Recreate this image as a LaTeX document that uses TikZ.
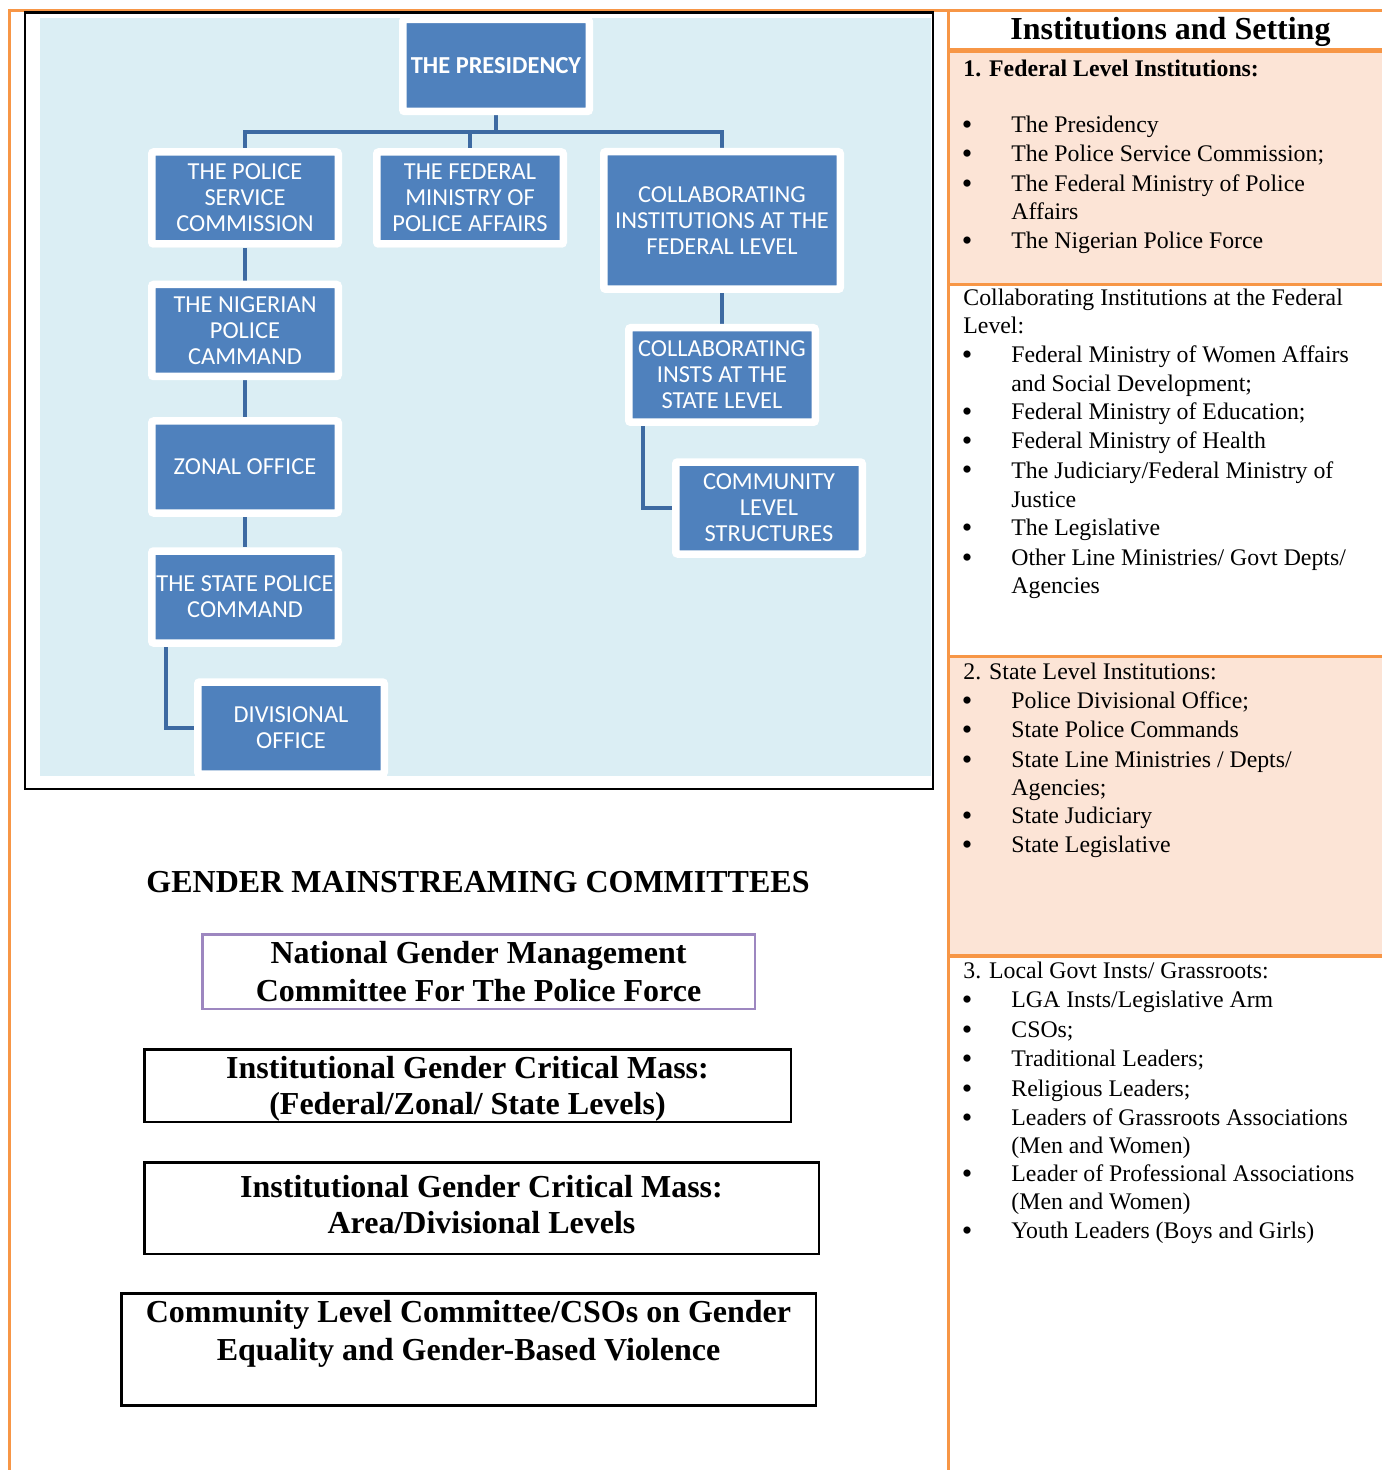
\documentclass[tikz,border=0pt]{standalone}
\usepackage{fontspec}
\setmainfont{Liberation Serif}
\newfontfamily\orgfamily{Carlito}
\usetikzlibrary{backgrounds,shadows}
\definecolor{orgblue}{HTML}{4F81BD}
\definecolor{orgbg}{HTML}{DBEEF4}
\definecolor{shadowgray}{HTML}{A9B9C1}
\definecolor{linkblue}{HTML}{3D6AA2}
\definecolor{tabline}{HTML}{F79646}
\definecolor{peach}{HTML}{FCE4D6}
\definecolor{lavender}{HTML}{9D87C0}
\newcommand\orgfont{\orgfamily\fontsize{12.2}{13}\selectfont}
\newcommand\bodyfont{\fontsize{11.9}{14.5}\selectfont}
\newcommand\cmtefont{\bfseries\fontsize{16}{18}\selectfont}
\newcommand\cmtestrut{\rule[-3.4pt]{0pt}{18pt}}
\tikzset{
    orgbox/.style={draw=white, line width=3.75pt, fill=orgblue, text=white, font=\orgfont,
        align=center, inner sep=0pt, minimum width=93.25pt, minimum height=46pt, rounded corners=1pt,
        drop shadow={shadow xshift=0pt, shadow yshift=-1.6pt, fill=shadowgray, opacity=1}}, % box of the chart
    link/.style={draw=linkblue, line width=2.3pt}, % chart connector
    cmte/.style={draw, line width=1.25pt, align=center, font=\cmtefont, inner sep=0pt}, % committee box
    bul/.style={anchor=base, inner sep=0pt, yshift=-1pt, font=\fontsize{15}{15}\selectfont},
    itm/.style={anchor=base west, inner sep=0pt, font=\bodyfont}
}

\begin{document}
\begin{tikzpicture}[x=0.5pt, y=-0.5pt]
    \useasboundingbox (0,0) rectangle (1382,1470);

    % table lines
    \fill[peach] (949.5,52.5) rectangle (1382,283);
    \fill[peach] (949.5,657.5) rectangle (1382,954);
    \draw[tabline, line width=1.5pt] (8,10.5) -- (1382,10.5);
    \draw[tabline, line width=1.25pt] (9.5,9) -- (9.5,1470);
    \draw[tabline, line width=1.5pt] (948,9) -- (948,1470);
    \foreach \y/\w in {50.5/2.2, 284.5/1.5, 656/1.5, 955.5/2} {
        \draw[tabline, line width=\w pt] (948,\y) -- (1382,\y);
    }

    % chart
    \draw[line width=1.25pt] (25,12.5) rectangle (933,789);

    \node[orgbox, font=\orgfont\bfseries] (pres) at (496,65.5) {THE PRESIDENCY};
    \node[orgbox] (psc) at (245,198) {THE POLICE\\SERVICE\\COMMISSION};
    \node[orgbox] (fmpa) at (470,198) {THE FEDERAL\\MINISTRY OF\\POLICE AFFAIRS};
    \node[orgbox, minimum width=118.25pt, minimum height=68.75pt] (cfed) at (722,220.5)
        {COLLABORATING\\INSTITUTIONS AT THE\\FEDERAL LEVEL};
    \node[orgbox] (npc) at (245,330.5) {THE NIGERIAN\\POLICE\\CAMMAND};
    \node[orgbox] (zonal) at (245,467) {ZONAL OFFICE};
    \node[orgbox] (spc) at (245,597) {THE STATE POLICE\\COMMAND};
    \node[orgbox] (div) at (291,728) {DIVISIONAL\\OFFICE};
    \node[orgbox, minimum height=47.25pt] (cstate) at (722,375) {COLLABORATING\\INSTS AT THE\\STATE LEVEL};
    \node[orgbox] (comm) at (769,508) {COMMUNITY\\LEVEL\\STRUCTURES};

    \coordinate (bus) at (496,132);
    \begin{scope}[on background layer]
        \fill[orgbg] (40,18) rectangle (931,776);
        \draw[link] (pres.south) -- (bus);
        \draw[link] (bus) -| (psc.north);
        \draw[link] (bus) -| (fmpa.north);
        \draw[link] (bus) -| (cfed.north);
        \draw[link] (psc) -- (npc);
        \draw[link] (npc) -- (zonal);
        \draw[link] (zonal) -- (spc);
        \draw[link] ([xshift=9pt]spc.south west) |- (div.west);
        \draw[link] (cfed) -- (cstate);
        \draw[link] ([xshift=9pt]cstate.south west) |- (comm.west);
    \end{scope}

    % committees
    \node[font=\cmtefont, anchor=base, inner sep=0pt] (gmc) at (478,892) {GENDER MAINSTREAMING COMMITTEES};
    \node[cmte, draw=lavender, minimum width=276.25pt, minimum height=37.25pt] (ngmc) at (478.5,971.5)
        {\cmtestrut National Gender Management\\\cmtestrut Committee For The Police Force};
    \node[cmte, minimum width=323.25pt, minimum height=36.25pt] (igcm) at (467.5,1085.5)
        {\cmtestrut Institutional Gender Critical Mass:\\\cmtestrut (Federal/Zonal/ State Levels)};
    \node[cmte, minimum width=337.25pt, minimum height=45.75pt] (igca) at (481.5,1208)
        {\strut Institutional Gender Critical Mass:\\\strut Area/Divisional Levels};
    \node[cmte, minimum width=347.25pt, minimum height=54.25pt] (clc) at (468.5,1349.5)
        {\cmtestrut Community Level Committee/CSOs on Gender\\\cmtestrut Equality and Gender-Based Violence\\\cmtestrut};

    % institutions and setting
    \node[font=\cmtefont, anchor=base, inner sep=0pt] (hdr) at (1170.5,39.5) {Institutions and Setting};
    \node[itm, font=\bodyfont\bfseries] (h1) at (963,77) {1. Federal Level Institutions:};
    \node[itm] (h2a) at (963,306) {Collaborating Institutions at the Federal};
    \node[itm] (h2b) at (963,334) {Level:};
    \node[itm] (h3) at (963,679) {2. State Level Institutions:};
    \node[itm] (h4) at (963,978) {3. Local Govt Insts/ Grassroots:};

    \foreach \y/\txt [count=\i] in {
        133/{The Presidency},
        162/{The Police Service Commission;},
        192/{The Federal Ministry of Police},
        249/{The Nigerian Police Force},
        363/{Federal Ministry of Women Affairs},
        420/{Federal Ministry of Education;},
        449/{Federal Ministry of Health},
        478/{The Judiciary/Federal Ministry of},
        535/{The Legislative},
        565/{Other Line Ministries/ Govt Depts/},
        708/{Police Divisional Office;},
        737/{State Police Commands},
        767/{State Line Ministries / Depts/},
        823/{State Judiciary},
        852/{State Legislative},
        1007/{LGA Insts/Legislative Arm},
        1037/{CSOs;},
        1066/{Traditional Leaders;},
        1096/{Religious Leaders;},
        1125/{Leaders of Grassroots Associations},
        1181/{Leader of Professional Associations},
        1238/{Youth Leaders (Boys and Girls)}
    } {
        \node[bul] (b\i) at (967,\y) {•};
        \node[itm] (t\i) at (1011,\y) {\txt};
    }

    \foreach \y/\txt [count=\i] in {
        220/{Affairs},
        392/{and Social Development;},
        507/{Justice},
        593/{Agencies},
        795/{Agencies;},
        1153/{(Men and Women)},
        1209/{(Men and Women)}
    } {
        \node[itm] (c\i) at (1011,\y) {\txt};
    }

\end{tikzpicture}
\end{document}
